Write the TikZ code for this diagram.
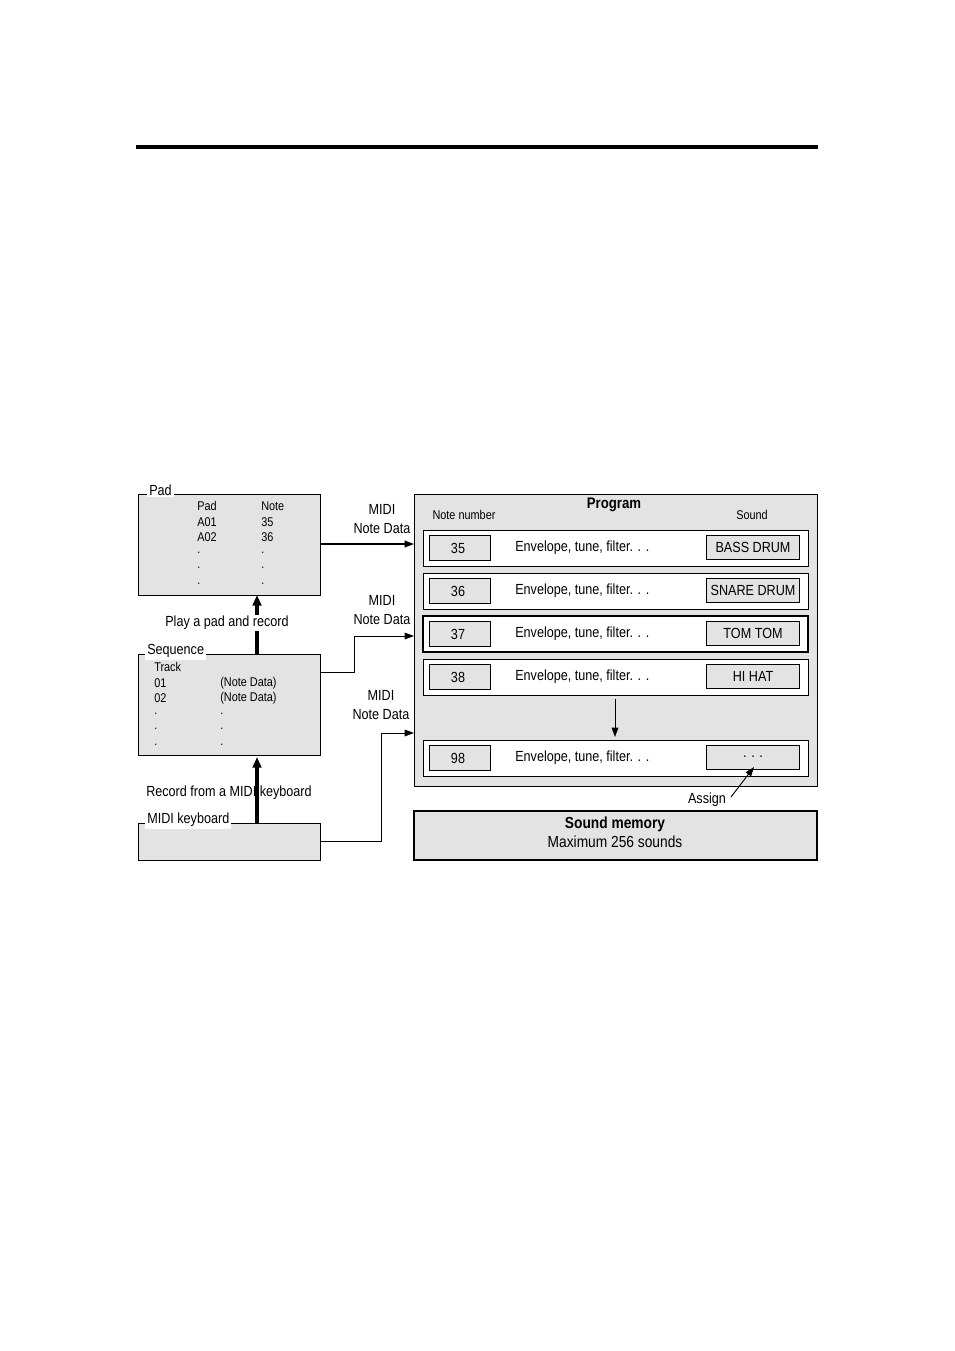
\documentclass[tikz,border=0pt]{standalone}
\usepackage{fontspec}
\setmainfont[FakeStretch=0.86]{Liberation Sans}
\usetikzlibrary{arrows.meta}
\definecolor{bg}{HTML}{E3E3E3}
\begin{document}
\begin{tikzpicture}[x=0.75pt,y=-0.75pt,
  box/.style={draw,fill=bg,line width=0.7pt},
  row/.style={draw,fill=white},
  cell/.style={draw,fill=bg,line width=0.6pt},
  lbl/.style={fill=white,inner sep=1.5pt,font=\fontsize{11}{12}\selectfont,anchor=west},
  txt/.style={inner sep=0pt,font=\fontsize{11}{12}\selectfont},
  sm/.style={inner sep=0pt,font=\fontsize{9.5}{10}\selectfont,anchor=west},
  arr/.style={-{Triangle[length=7pt,width=5pt]},line width=0.7pt},
  tarr/.style={-{Triangle[length=8pt,width=6.5pt]},line width=2.6pt}]
\useasboundingbox (0,0) rectangle (954,1351);
\draw[line width=2.4pt] (136,147) -- (818,147);
% left boxes
\draw[box] (138,494) rectangle (320,595);
\coordinate (padR) at (320,544); \coordinate (padB) at (257,595);
\node[lbl] (padl) at (147,490) {Pad};
\node[sm] at (197,506) {Pad}; \node[sm] at (261,506) {Note};
\node[sm] at (197,522) {A01}; \node[sm] at (261,522) {35};
\node[sm] at (197,537) {A02}; \node[sm] at (261,537) {36};
\foreach \y in {553,568,584}{\node[sm] at (197,\y) {.}; \node[sm] at (261,\y) {.};}
\draw[box] (138,654) rectangle (320,755);
\coordinate (seqT) at (257,654); \coordinate (seqB) at (257,757); \coordinate (seqR) at (320,672);
\node[lbl] (seql) at (145,651) {Sequence};
\node[sm] at (154,667) {Track};
\node[sm] at (154,683) {01}; \node[sm] at (220,683) {(Note Data)};
\node[sm] at (154,698) {02}; \node[sm] at (220,698) {(Note Data)};
\foreach \y in {714,729,745}{\node[sm] at (154,\y) {.}; \node[sm] at (220,\y) {.};}
\draw[box] (138,823) rectangle (320,860);
\coordinate (kbT) at (257,823); \coordinate (kbR) at (320,841);
\node[lbl] (kbl) at (145,820) {MIDI keyboard};
\draw[tarr] (seqT) -- (padB);
\node[txt,fill=white,inner sep=1pt] (play) at (227,623) {Play a pad and record};
\draw[tarr] (kbT) -- (seqB);
\node[txt] (rec) at (229,793) {Record from a MIDI keyboard};
% program
\draw[box] (414,494) rectangle (817,786);
\node[txt,font=\fontsize{11.5}{12}\selectfont\bfseries] (prog) at (614,505) {Program};
\node[txt,font=\fontsize{9.5}{10}\selectfont] (nn) at (464,515) {Note number};
\node[txt,font=\fontsize{9.5}{10}\selectfont] (snd) at (752,515) {Sound};
\foreach \t/\n/\s/\w in {530/35/BASS DRUM/0.6, 573/36/SNARE DRUM/0.6, 616/37/TOM TOM/1.5, 659/38/HI HAT/0.6, 740/98/{. . .}/0.6}{
  \draw[row,line width=\w pt] (423,\t) rectangle (808,\t+36);
  \draw[cell] (429,\t+5) rectangle (490,\t+30);
  \node[txt] at (458,\t+18) {\n};
  \node[txt,anchor=west] at (515,\t+18) {Envelope, tune, filter. . .};
  \draw[cell] (706,\t+5) rectangle (799,\t+29);
  \node[txt] at (753,\t+17) {\s};
}
\coordinate (dA) at (615,699); \coordinate (dB) at (615,737);
\draw[arr] (dA) -- (dB);
\coordinate (pin1) at (414,544); \coordinate (pin2) at (414,636); \coordinate (pin3) at (414,733);
\draw[arr,line width=1.3pt] (padR) -- (pin1);
\draw[arr] (seqR) -- (354,672) -- (354,636) -- (pin2);
\draw[arr] (kbR) -- (381,841) -- (381,733) -- (pin3);
\foreach \x/\y in {382/519, 382/610, 381/705}
  \node[txt,align=center,font=\fontsize{11}{14}\selectfont] at (\x,\y) {MIDI\\Note Data};
% sound memory
\draw[box,line width=1.6pt] (414,811) rectangle (817,860);
\node[txt,align=center,font=\fontsize{12}{14}\selectfont] (sm) at (615,832) {\textbf{Sound memory}\\Maximum 256 sounds};
\node[txt] (assign) at (707,800) {Assign};
\coordinate (aS) at (731,797); \coordinate (aE) at (754,767);
\draw[arr] (aS) -- (aE);
\end{tikzpicture}
\end{document}
